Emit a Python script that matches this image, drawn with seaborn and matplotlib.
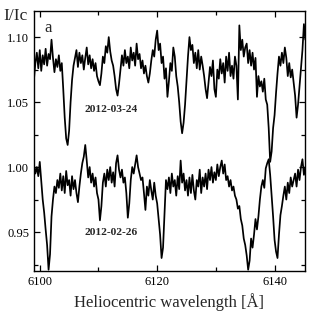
import numpy as np
import pandas as pd
import matplotlib
matplotlib.use("Agg")
import matplotlib.pyplot as plt
from matplotlib.ticker import MultipleLocator
import seaborn as sns

# Wavelength grid (Angstrom), 0.25 A step starting at 6099.0
wl_start = 6099.0
wl_step = 0.25

# Upper spectrum (2012-03-24), I/Ic, 4 values per Angstrom
flux_0324 = [
    1.067, 1.080, 1.088, 1.076,  # 6099
    1.090, 1.074, 1.086, 1.079,  # 6100
    1.091, 1.078, 1.087, 1.083,  # 6101
    1.098, 1.084, 1.073, 1.083,  # 6102
    1.077, 1.086, 1.074, 1.080,  # 6103
    1.060, 1.038, 1.022, 1.017,  # 6104
    1.028, 1.050, 1.067, 1.078,  # 6105
    1.084, 1.090, 1.077, 1.088,  # 6106
    1.080, 1.086, 1.075, 1.084,  # 6107
    1.092, 1.079, 1.086, 1.076,  # 6108
    1.083, 1.074, 1.080, 1.070,  # 6109
    1.066, 1.063, 1.072, 1.085,  # 6110
    1.080, 1.093, 1.088, 1.100,  # 6111
    1.089, 1.082, 1.078, 1.070,  # 6112
    1.060, 1.055, 1.064, 1.075,  # 6113
    1.086, 1.078, 1.090, 1.080,  # 6114
    1.085, 1.076, 1.092, 1.082,  # 6115
    1.088, 1.078, 1.095, 1.083,  # 6116
    1.087, 1.076, 1.082, 1.072,  # 6117
    1.078, 1.070, 1.065, 1.072,  # 6118
    1.082, 1.090, 1.085, 1.098,  # 6119
    1.105, 1.090, 1.095, 1.080,  # 6120
    1.085, 1.068, 1.076, 1.054,  # 6121
    1.066, 1.080, 1.074, 1.092,  # 6122
    1.085, 1.070, 1.062, 1.050,  # 6123
    1.035, 1.026, 1.034, 1.048,  # 6124
    1.067, 1.085, 1.100, 1.090,  # 6125
    1.094, 1.080, 1.088, 1.076,  # 6126
    1.090, 1.075, 1.085, 1.078,  # 6127
    1.070, 1.060, 1.053, 1.065,  # 6128
    1.077, 1.070, 1.082, 1.060,  # 6129
    1.054, 1.075, 1.068, 1.083,  # 6130
    1.072, 1.080, 1.065, 1.085,  # 6131
    1.074, 1.088, 1.070, 1.078,  # 6132
    1.068, 1.085, 1.078, 1.052,  # 6133
    1.109, 1.090, 1.098, 1.085,  # 6134
    1.092, 1.095, 1.080, 1.090,  # 6135
    1.078, 1.088, 1.075, 1.084,  # 6136
    1.054, 1.070, 1.062, 1.066,  # 6137
    1.058, 1.068, 1.052, 1.048,  # 6138
    1.030, 1.004, 1.012, 1.030,  # 6139
    1.040, 1.057, 1.072, 1.085,  # 6140
    1.078, 1.088, 1.080, 1.092,  # 6141
    1.084, 1.070, 1.080, 1.069,  # 6142
    1.075, 1.065, 1.055, 1.038,  # 6143
    1.048, 1.062, 1.075, 1.090,  # 6144
    1.110, 1.098, 1.100, 1.100,  # 6145
]

# Lower spectrum (2012-02-26)
flux_0226 = [
    1.002, 0.995, 1.000, 0.993,  # 6099
    1.004, 0.990, 0.975, 0.965,  # 6100
    0.952, 0.940, 0.921, 0.933,  # 6101
    0.962, 0.975, 0.985, 0.980,  # 6102
    0.990, 0.984, 0.995, 0.982,  # 6103
    0.993, 0.980, 0.997, 0.986,  # 6104
    0.990, 0.978, 0.993, 0.983,  # 6105
    0.990, 0.980, 0.973, 0.985,  # 6106
    0.995, 1.003, 1.008, 1.017,  # 6107
    1.005, 0.992, 1.000, 0.988,  # 6108
    0.995, 0.985, 0.992, 0.980,  # 6109
    0.975, 0.959, 0.970, 0.988,  # 6110
    0.995, 0.985, 0.998, 0.990,  # 6111
    1.000, 0.988, 0.996, 0.985,  # 6112
    1.003, 1.009, 0.998, 0.992,  # 6113
    0.998, 0.988, 0.992, 0.980,  # 6114
    0.961, 0.972, 0.990, 1.000,  # 6115
    0.995, 1.002, 1.009, 1.000,  # 6116
    0.995, 0.990, 0.992, 0.980,  # 6117
    0.967, 0.985, 0.978, 0.990,  # 6118
    0.982, 0.975, 0.988, 0.978,  # 6119
    0.972, 0.960, 0.948, 0.930,  # 6120
    0.938, 0.965, 0.990, 0.983,  # 6121
    0.992, 0.980, 0.995, 0.985,  # 6122
    0.990, 0.978, 0.993, 0.983,  # 6123
    1.005, 0.988, 0.995, 0.982,  # 6124
    0.990, 0.978, 0.992, 0.980,  # 6125
    0.994, 0.982, 0.975, 0.990,  # 6126
    0.985, 0.998, 0.980, 0.992,  # 6127
    0.985, 0.995, 0.983, 0.998,  # 6128
    0.990, 1.000, 0.988, 0.996,  # 6129
    0.990, 1.002, 0.993, 1.000,  # 6130
    1.005, 0.995, 1.002, 0.990,  # 6131
    0.993, 0.985, 0.990, 0.982,  # 6132
    0.985, 0.978, 0.975, 0.968,  # 6133
    0.970, 0.960, 0.955, 0.945,  # 6134
    0.940, 0.932, 0.921, 0.928,  # 6135
    0.945, 0.938, 0.948, 0.960,  # 6136
    0.952, 0.962, 0.975, 0.985,  # 6137
    0.990, 0.984, 0.999, 1.003,  # 6138
    1.006, 0.994, 0.978, 0.962,  # 6139
    0.944, 0.935, 0.930, 0.948,  # 6140
    0.963, 0.970, 0.978, 0.985,  # 6141
    0.975, 0.988, 0.980, 0.992,  # 6142
    0.985, 0.990, 0.995, 0.985,  # 6143
    0.998, 0.990, 1.000, 1.006,  # 6144
    0.994, 1.000, 1.000, 1.000,  # 6145
]

labels = ["2012-03-24", "2012-02-26"]
x_ticks = [6100, 6120, 6140]
y_ticks = [0.95, 1.00, 1.05, 1.10]

sns.set_style("ticks")
plt.rcParams["font.family"] = ["Liberation Serif", "DejaVu Serif"]
plt.rcParams["mathtext.fontset"] = "stix"

wl_a = wl_start + wl_step * np.arange(len(flux_0324))
wl_b = wl_start + wl_step * np.arange(len(flux_0226))
df = pd.concat([
    pd.DataFrame({"wl": wl_a, "flux": flux_0324, "date": labels[0]}),
    pd.DataFrame({"wl": wl_b, "flux": flux_0226, "date": labels[1]}),
])

fig = plt.figure(figsize=(3.11, 3.17), dpi=100)
ax = fig.add_axes([0.109, 0.145, 0.872, 0.820])

sns.lineplot(data=df, x="wl", y="flux", units="date", estimator=None,
             color="black", linewidth=1.25, sort=False, ax=ax, legend=False)

ax.set_xlim(6099.0, 6145.2)
ax.set_ylim(0.920, 1.120)
ax.set_xticks(x_ticks)
ax.set_xticklabels([str(t) for t in x_ticks])
ax.set_yticks(y_ticks)
ax.set_yticklabels([f"{t:.2f}" for t in y_ticks])
ax.xaxis.set_minor_locator(MultipleLocator(10))
ax.yaxis.set_minor_locator(MultipleLocator(0.025))
ax.tick_params(which="both", direction="in", top=True, right=True,
               labelsize=9, width=0.9, colors="black")
ax.tick_params(which="major", length=4.5)
ax.tick_params(which="minor", length=3)
for s in ax.spines.values():
    s.set_linewidth(1.0)
    s.set_color("black")

ax.set_xlabel("Heliocentric wavelength [Å]", fontsize=12, labelpad=4)
ax.set_ylabel("")
fig.text(0.012, 0.975, "I/Ic", fontsize=12.5, ha="left", va="top")
ax.text(0.04, 0.965, "a", transform=ax.transAxes, fontsize=12, ha="left", va="top")

ax.text(6112.1, 1.044, labels[0], fontsize=8.2, fontweight="bold", ha="center", va="center")
ax.text(6112.1, 0.950, labels[1], fontsize=8.2, fontweight="bold", ha="center", va="center")

fig.savefig("out.png", dpi=100)
